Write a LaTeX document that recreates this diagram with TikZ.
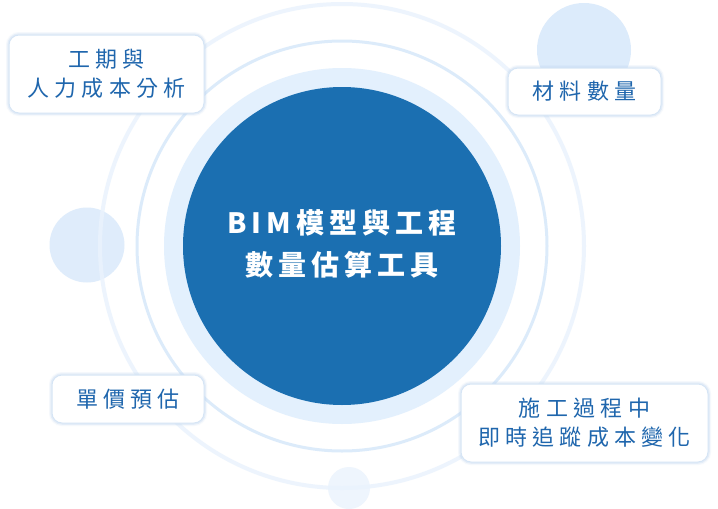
\documentclass[tikz,border=0pt]{standalone}
\usepackage{fontspec}
\newfontfamily\cjk[LetterSpace=24]{Noto Sans CJK TC}
\newfontfamily\cjkc[LetterSpace=18]{Noto Sans CJK TC}
\definecolor{darkblue}{HTML}{1B6FB1}
\definecolor{ringlight}{HTML}{E3F0FD}
\definecolor{ringmid}{HTML}{D9E9FA}
\definecolor{ringout}{HTML}{EAF3FD}
\definecolor{dotblue}{HTML}{DCEBFB}
\definecolor{dotpale}{HTML}{EEF5FD}
\definecolor{txtblue}{HTML}{1F66AD}
\definecolor{boxedge}{HTML}{D6E5F5}
\definecolor{glowc}{HTML}{BFD6EF}
\tikzset{
  infobox/.style={draw=boxedge, line width=1pt, fill=white, rounded corners=10pt,
    align=center, text=txtblue, inner sep=0pt,
    font=\cjk\fontsize{22}{29}\selectfont,
    preaction={draw=glowc, line width=6pt, opacity=0.15},
    preaction={draw=glowc, line width=3.5pt, opacity=0.3}},
  centertext/.style={align=center, text=white, font=\cjkc\bfseries\fontsize{28}{42}\selectfont}
}
\begin{document}
\begin{tikzpicture}[x=1pt,y=-1pt]
\useasboundingbox[fill=white] (0,0) rectangle (718,509);
% decorative dots
\fill[dotblue] (584,50) circle (47);
\fill[dotblue, opacity=0.9] (87,245) circle (37.5);
\fill[dotpale] (349,488) circle (21);
% rings
\draw[ringout, line width=4pt, opacity=0.85] (342,246) circle (242);
\draw[ringmid, line width=3pt, opacity=0.9] (342,246) circle (205);
\fill[ringlight] (342,246) circle (178);
\node[circle, fill=darkblue, minimum size=318pt, inner sep=0pt] (core) at (342,246) {};
\node[centertext] (title) at (342,244) {BIM模型與工程\\數量估算工具};
% boxes
\node[infobox, minimum width=195pt, minimum height=78pt] (b1) at (106.5,74) {工期與\\人力成本分析};
\node[infobox, minimum width=153pt, minimum height=47pt] (b2) at (584.5,91.5) {材料數量};
\node[infobox, minimum width=152pt, minimum height=48pt] (b3) at (128,399) {單價預估};
\node[infobox, minimum width=247pt, minimum height=78pt] (b4) at (584.5,423) {施工過程中\\即時追蹤成本變化};
\end{tikzpicture}
\end{document}
